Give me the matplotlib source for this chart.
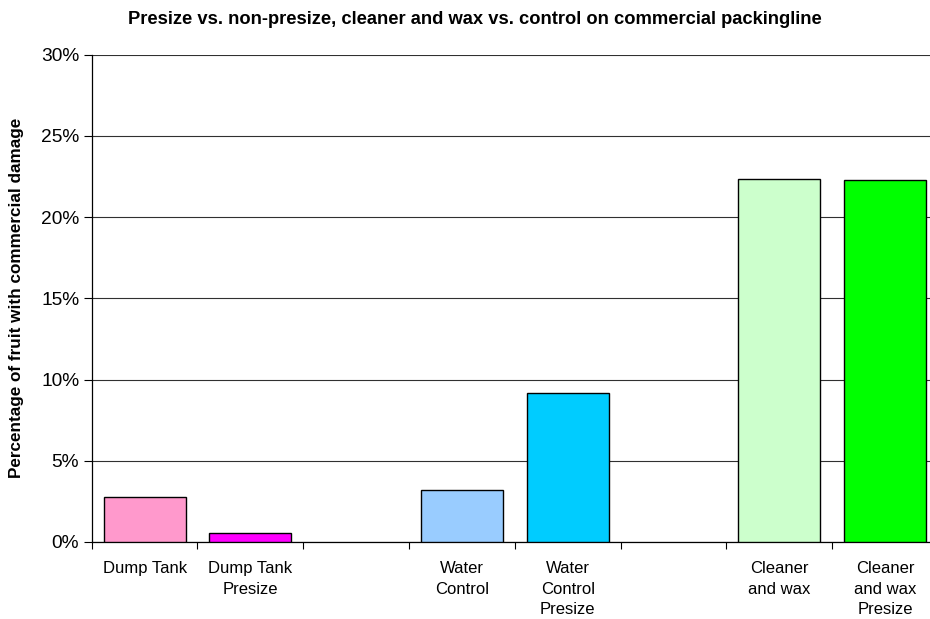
import matplotlib
matplotlib.use("Agg")
import matplotlib.pyplot as plt
import numpy as np

plt.rcParams['font.family'] = ['Liberation Sans', 'DejaVu Sans']

# treatments, with empty slots separating the three groups
labels = ['Dump Tank', 'Dump Tank\nPresize', '',
          'Water\nControl', 'Water\nControl\nPresize', '',
          'Cleaner\nand wax', 'Cleaner\nand wax\nPresize']
damage = [2.75, 0.53, 0.0, 3.18, 9.16, 0.0, 22.37, 22.27]
colors = ['#FF99CC', '#FF00FF', 'none', '#99CCFF', '#00CCFF', 'none',
          '#CCFFCC', '#00FF00']

fig = plt.figure(figsize=(9.3, 6.19), dpi=100)
ax = fig.add_axes([91.7 / 930, 1 - 542 / 619, (938 - 91.7) / 930, (542 - 54.7) / 619])

x = np.arange(len(labels))
for i, (v, c) in enumerate(zip(damage, colors)):
    if v > 0:
        ax.bar(x[i], v, width=0.775, color=c, edgecolor='black', linewidth=1.0, zorder=3)

ax.set_xlim(-0.5, len(labels) - 0.5)
ax.set_ylim(0, 30)
ax.set_yticks(np.arange(0, 31, 5))
ax.set_yticklabels([f'{t}%' for t in range(0, 31, 5)], fontsize=13.8)
ax.yaxis.grid(True, color='#303030', linewidth=0.8, zorder=0)

# category boundaries carry the ticks, labels sit in the middle
ax.set_xticks(np.arange(-0.5, len(labels), 1.0))
ax.set_xticklabels([])
ax.set_xticks(x, minor=True)
ax.set_xticklabels(labels, minor=True, fontsize=12, linespacing=1.45, va='top')
ax.tick_params(axis='x', which='minor', length=0, pad=14)
ax.tick_params(axis='x', which='major', length=5, direction='out', width=0.8)
ax.tick_params(axis='y', length=6, direction='out', width=0.8, pad=3)

for s in ['top', 'right']:
    ax.spines[s].set_visible(False)
ax.spines['left'].set_linewidth(0.9)
ax.spines['bottom'].set_linewidth(0.9)

fig.text(475 / 930, 1 - 19 / 619,
         'Presize vs. non-presize, cleaner and wax vs. control on commercial packingline',
         ha='center', va='center', fontsize=13.2, fontweight='bold')
fig.text(17 / 930, 1 - 298 / 619, 'Percentage of fruit with commercial damage',
         rotation=90, ha='center', va='center', fontsize=12.3, fontweight='bold')

fig.savefig('out.png', dpi=100)
